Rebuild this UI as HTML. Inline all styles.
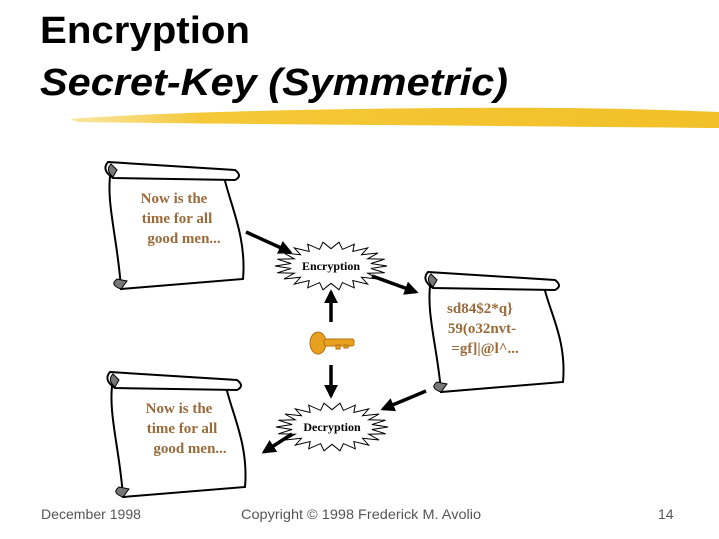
<!DOCTYPE html>
<html><head><meta charset="utf-8"><style>
html,body{margin:0;padding:0;background:#fff;width:719px;height:539px;overflow:hidden}
svg{display:block}
</style></head><body>
<svg id="s" width="719" height="539" viewBox="0 0 719 539" xmlns="http://www.w3.org/2000/svg">
<defs>
<marker id="ah" viewBox="0 0 10 10" refX="8" refY="5" markerWidth="4" markerHeight="4" orient="auto"><path d="M0,0 L10,5 L0,10 z" fill="#000"/></marker>
<linearGradient id="yg" x1="0" x2="1"><stop offset="0" stop-color="#f6d460" stop-opacity="0.6"/><stop offset="0.2" stop-color="#f4c838"/><stop offset="1" stop-color="#f2c028"/></linearGradient>
</defs>
<text x="40" y="43" font-family="Liberation Sans, sans-serif" font-weight="bold" font-size="38" textLength="210" lengthAdjust="spacingAndGlyphs">Encryption</text>
<text x="40" y="95" font-family="Liberation Sans, sans-serif" font-weight="bold" font-style="italic" font-size="38" textLength="468" lengthAdjust="spacingAndGlyphs">Secret-Key (Symmetric)</text>
<path d="M70,119 C150,113 300,109 450,108 C560,107 650,109 719,112 L719,128 C620,127 500,126 380,125 C250,124 150,123 78,122 Z" fill="url(#yg)"/>
<g id="scrolls" stroke="#000" stroke-width="2" fill="#fff"></g>
<g font-family="Liberation Serif, serif" font-weight="bold" font-size="15" fill="#9a6a3a">
<text x="174" y="203" text-anchor="middle">Now is the</text>
<text x="177" y="223" text-anchor="middle">time for all</text>
<text x="184" y="243" text-anchor="middle">good men...</text>
<text x="480" y="313" text-anchor="middle">sd84$2*q}</text>
<text x="482" y="333" text-anchor="middle">59(o32nvt-</text>
<text x="485" y="353" text-anchor="middle">=gf]|@l^...</text>
<text x="179" y="413" text-anchor="middle">Now is the</text>
<text x="182" y="433" text-anchor="middle">time for all</text>
<text x="190" y="453" text-anchor="middle">good men...</text>
</g>
<g id="stars" fill="#fff" stroke="#000" stroke-width="1"></g>
<g font-family="Liberation Serif, serif" font-weight="bold" font-size="12" fill="#000" text-anchor="middle">
<text x="331" y="270">Encryption</text>
<text x="332" y="431">Decryption</text>
</g>
<g stroke="#000" stroke-width="3.5" marker-end="url(#ah)">
<line x1="246" y1="232" x2="290" y2="252"/>
<line x1="372" y1="276" x2="416" y2="292"/>
<line x1="331" y1="322" x2="331" y2="292"/>
<line x1="331" y1="365" x2="331" y2="396"/>
<line x1="426" y1="391" x2="383" y2="409"/>
<line x1="292" y1="434" x2="264" y2="452"/>
</g>
<g fill="#e8a020" stroke="#b87010" stroke-width="1">
<ellipse cx="318" cy="343" rx="8" ry="11"/>
<rect x="324" y="339" width="30" height="7" rx="2"/>
<rect x="336" y="345" width="4" height="4"/>
<rect x="344" y="345" width="4" height="3"/>
</g>
<g font-family="Liberation Sans, sans-serif" font-size="14" fill="#555">
<text x="41" y="519" textLength="100" lengthAdjust="spacingAndGlyphs">December 1998</text>
<text x="241" y="519" textLength="240" lengthAdjust="spacingAndGlyphs">Copyright  © 1998 Frederick M. Avolio</text>
<text x="658" y="519">14</text>
</g>
</svg>
<script>
function scroll(x,y,w,h){
 var g=document.getElementById('scrolls');
 var p='M'+(x+8)+','+(y+10)+' C'+(x+2)+','+(y+40)+' '+(x+15)+','+(y+80)+' '+(x+18)+','+(y+h-6)
 +' L'+(x+w+10)+','+(y+h-16)+' C'+(x+w+14)+','+(y+h-60)+' '+(x+w-5)+','+(y+40)+' '+(x+w-10)+','+(y+12)+' Z';
 g.innerHTML+='<path d="'+p+'"/>';
 g.innerHTML+='<path d="M'+(x+5)+','+(y+2)+' L'+(x+w+2)+','+(y+10)+' Q'+(x+w+10)+','+(y+16)+' '+(x+w+2)+','+(y+20)+' L'+(x+10)+','+(y+18)+' Q'+(x-2)+','+(y+10)+' '+(x+5)+','+(y+2)+' Z"/>';
 g.innerHTML+='<path d="M'+(x+8)+','+(y+4)+' Q'+(x+2)+','+(y+10)+' '+(x+10)+','+(y+17)+' L'+(x+14)+','+(y+10)+' Z" fill="#777" stroke-width="1"/>';
 g.innerHTML+='<path d="M'+(x+18)+','+(y+h-6)+' Q'+(x+6)+','+(y+h-10)+' '+(x+14)+','+(y+h-16)+' L'+(x+24)+','+(y+h-14)+' Z" fill="#777" stroke-width="1"/>';
}
scroll(103,160,130,135);
scroll(423,270,130,128);
scroll(105,370,130,133);
function star(cx,cy,rx,ry,n){
 var pts=[];for(var i=0;i<2*n;i++){var a=Math.PI*i/n,r=i%2?0.72:1;pts.push((cx+Math.cos(a)*rx*r).toFixed(1)+','+(cy+Math.sin(a)*ry*r).toFixed(1));}
 document.getElementById('stars').innerHTML+='<polygon points="'+pts.join(' ')+'"/>';
}
star(331,266,56,24,22);
star(332,427,56,24,22);
</script>
</body></html>
